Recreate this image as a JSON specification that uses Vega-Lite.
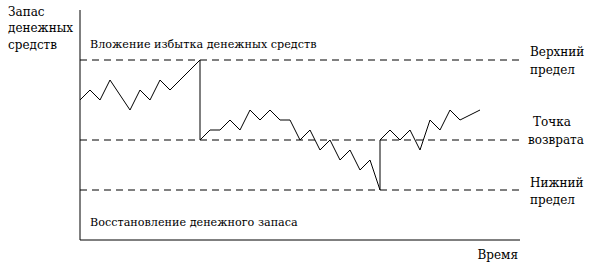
{
  "$schema": "https://vega.github.io/schema/vega-lite/v6.json",
  "width": 600,
  "height": 270,
  "padding": 0,
  "autosize": {"type": "none"},
  "background": "white",
  "config": {"view": {"stroke": null}},
  "datasets": {
    "cash": [
      {"o": 1, "t": 0, "c": 14}, {"o": 2, "t": 1, "c": 15}, {"o": 3, "t": 2, "c": 14},
      {"o": 4, "t": 3, "c": 16}, {"o": 5, "t": 5, "c": 13}, {"o": 6, "t": 6, "c": 15},
      {"o": 7, "t": 7, "c": 14}, {"o": 8, "t": 8, "c": 16}, {"o": 9, "t": 9, "c": 15},
      {"o": 10, "t": 12, "c": 18}, {"o": 11, "t": 12, "c": 10}, {"o": 12, "t": 13, "c": 11},
      {"o": 13, "t": 14, "c": 11}, {"o": 14, "t": 15, "c": 12}, {"o": 15, "t": 16, "c": 11},
      {"o": 16, "t": 17, "c": 13}, {"o": 17, "t": 18, "c": 12}, {"o": 18, "t": 19, "c": 13},
      {"o": 19, "t": 20, "c": 12}, {"o": 20, "t": 21, "c": 12}, {"o": 21, "t": 22, "c": 10},
      {"o": 22, "t": 23, "c": 11}, {"o": 23, "t": 24, "c": 9}, {"o": 24, "t": 25, "c": 10},
      {"o": 25, "t": 26, "c": 8}, {"o": 26, "t": 27, "c": 9}, {"o": 27, "t": 28, "c": 7},
      {"o": 28, "t": 29, "c": 8}, {"o": 29, "t": 30, "c": 5}, {"o": 30, "t": 30, "c": 10},
      {"o": 31, "t": 31, "c": 11}, {"o": 32, "t": 32, "c": 10}, {"o": 33, "t": 33, "c": 11},
      {"o": 34, "t": 34, "c": 9}, {"o": 35, "t": 35, "c": 12}, {"o": 36, "t": 36, "c": 11},
      {"o": 37, "t": 37, "c": 13}, {"o": 38, "t": 38, "c": 12}, {"o": 39, "t": 40, "c": 13}
    ],
    "axes": [
      {"name": "y-axis", "t": 0, "t2": 0, "c": 0, "c2": 23},
      {"name": "x-axis", "t": 0, "t2": 44, "c": 0, "c2": 0}
    ],
    "limits": [
      {"name": "Верхний предел", "c": 18, "t": 0, "t2": 44.1},
      {"name": "Точка возврата", "c": 10, "t": 0, "t2": 44.1},
      {"name": "Нижний предел", "c": 5, "t": 0, "t2": 44.1}
    ],
    "labelsLeft": [
      {"text": "Запас", "t": -7.2, "c": 22.8},
      {"text": "денежных", "t": -7.2, "c": 21.2},
      {"text": "средств", "t": -7.2, "c": 19.5},
      {"text": "Верхний", "t": 45, "c": 18.8},
      {"text": "предел", "t": 45, "c": 17},
      {"text": "Точка", "t": 45.3, "c": 11.8},
      {"text": "возврата", "t": 44.8, "c": 10},
      {"text": "Нижний", "t": 45, "c": 5.7},
      {"text": "предел", "t": 45, "c": 4}
    ],
    "labelsLong": [
      {"text": "Вложение избытка денежных средств", "t": 1, "c": 19.5},
      {"text": "Восстановление денежного запаса", "t": 1, "c": 1.7}
    ],
    "labelsRight": [
      {"text": "Время", "t": 43.8, "c": -1.5}
    ]
  },
  "layer": [
    {
      "data": {"name": "axes"},
      "mark": {"type": "rule", "color": "black", "strokeWidth": 1},
      "encoding": {
        "x": {"field": "t", "type": "quantitative", "scale": {"domain": [-8, 52], "nice": false, "zero": false}, "axis": null},
        "x2": {"field": "t2"},
        "y": {"field": "c", "type": "quantitative", "scale": {"domain": [-3, 24], "nice": false, "zero": false}, "axis": null},
        "y2": {"field": "c2"}
      }
    },
    {
      "data": {"name": "limits"},
      "mark": {"type": "rule", "color": "black", "strokeWidth": 1, "strokeDash": [7, 5]},
      "encoding": {
        "x": {"field": "t", "type": "quantitative"},
        "x2": {"field": "t2"},
        "y": {"field": "c", "type": "quantitative"}
      }
    },
    {
      "data": {"name": "cash"},
      "mark": {"type": "line", "color": "black", "strokeWidth": 1},
      "encoding": {
        "x": {"field": "t", "type": "quantitative"},
        "y": {"field": "c", "type": "quantitative"},
        "order": {"field": "o", "type": "quantitative"}
      }
    },
    {
      "data": {"name": "labelsLeft"},
      "mark": {"type": "text", "font": "DejaVu Serif", "fontSize": 12, "color": "black", "baseline": "middle", "align": "left"},
      "encoding": {
        "x": {"field": "t", "type": "quantitative"},
        "y": {"field": "c", "type": "quantitative"},
        "text": {"field": "text"}
      }
    },
    {
      "data": {"name": "labelsLong"},
      "mark": {"type": "text", "font": "DejaVu Serif", "fontSize": 11.2, "color": "black", "baseline": "middle", "align": "left"},
      "encoding": {
        "x": {"field": "t", "type": "quantitative"},
        "y": {"field": "c", "type": "quantitative"},
        "text": {"field": "text"}
      }
    },
    {
      "data": {"name": "labelsRight"},
      "mark": {"type": "text", "font": "DejaVu Serif", "fontSize": 12, "color": "black", "baseline": "middle", "align": "right"},
      "encoding": {
        "x": {"field": "t", "type": "quantitative"},
        "y": {"field": "c", "type": "quantitative"},
        "text": {"field": "text"}
      }
    }
  ]
}
